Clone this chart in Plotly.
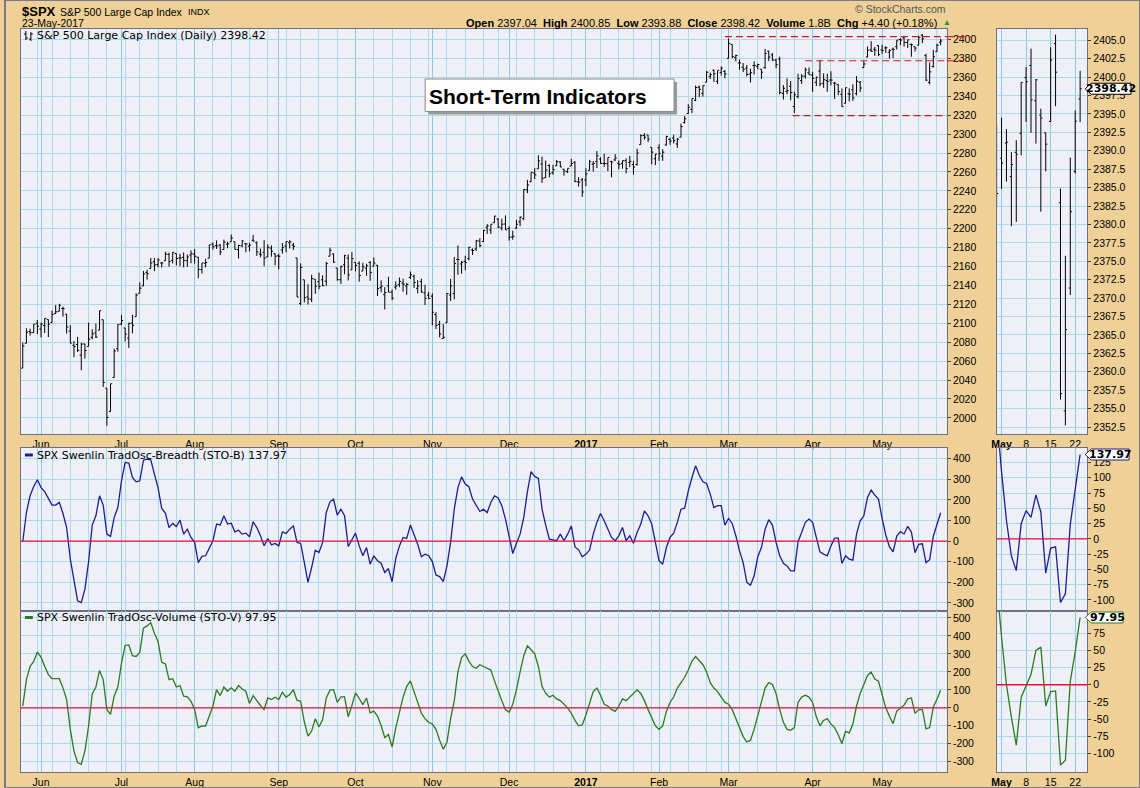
import numpy as np
import pandas as pd
import plotly.graph_objects as go

# ---------------- data ----------------
HOLIDAYS = ["2016-05-30", "2016-07-04", "2016-09-05", "2016-11-24", "2016-12-26",
            "2017-01-02", "2017-01-16", "2017-02-20", "2017-04-14"]

open_ = [
    2052.6, 2078.9, 2091.4, 2090.1, 2100.1,
    2093.9, 2097.7, 2104.1, 2100.8, 2110.2, 2112.7, 2115.7, 2109.6, 2091.8, 2076.7, 2077.6, 2066.4, 2078.2, 2075.6, 2085.2, 2089.8, 2092.8, 2103.8, 2031.5, 2006.7, 2042.7, 2073.2,
    2099.3, 2095.1, 2084.4, 2100.4, 2107.0, 2131.7, 2139.5, 2153.8, 2157.9, 2165.1, 2162.0, 2163.8, 2166.1, 2172.9, 2166.5, 2173.7, 2169.0, 2169.8, 2166.1, 2172.1,
    2173.1, 2169.9, 2156.8, 2163.5, 2168.8, 2183.8, 2182.2, 2182.8, 2178.0, 2183.7, 2186.1, 2186.2, 2177.8, 2181.9, 2184.2, 2181.6, 2187.8, 2185.1, 2173.3, 2175.1, 2170.2, 2179.5, 2173.6,
    2171.3, 2177.5, 2181.6, 2185.2, 2182.8, 2169.1, 2120.9, 2146.0, 2127.9, 2125.4, 2146.5, 2144.0, 2145.9, 2144.6, 2170.9, 2173.3, 2158.5, 2146.0, 2161.9, 2168.9, 2156.5,
    2164.3, 2163.4, 2155.2, 2158.2, 2164.2, 2160.4, 2161.4, 2137.7, 2130.3, 2139.7, 2133.0, 2138.3, 2140.8, 2142.5, 2139.4, 2148.5, 2149.7, 2137.0, 2144.1, 2132.2, 2129.8,
    2128.7, 2109.4, 2098.8, 2083.8, 2100.6, 2129.9, 2131.6, 2167.5, 2162.7, 2165.6, 2168.3, 2177.5, 2178.6, 2186.9, 2186.4, 2201.6, 2198.6, 2206.3, 2210.2, 2200.8, 2205.0,
    2200.2, 2191.1, 2200.6, 2207.3, 2210.7, 2241.1, 2249.7, 2258.8, 2263.3, 2268.4, 2253.8, 2266.8, 2259.2, 2266.5, 2270.5, 2262.9, 2260.3, 2266.2, 2270.2, 2249.5, 2251.6,
    2251.6, 2261.6, 2268.2, 2271.1, 2273.6, 2269.0, 2268.6, 2271.1, 2272.7, 2269.1, 2269.1, 2271.9, 2270.0, 2267.8, 2267.9, 2288.9, 2298.6, 2299.0, 2286.0, 2274.0,
    2285.6, 2276.7, 2288.5, 2294.3, 2295.9, 2289.6, 2296.7, 2312.3, 2321.7, 2326.1, 2335.6, 2349.6, 2343.0, 2354.9, 2361.1, 2367.5, 2355.7, 2365.2, 2366.1,
    2380.1, 2394.8, 2380.9, 2375.2, 2370.7, 2369.8, 2363.5, 2372.5, 2371.6, 2368.6, 2370.3, 2387.7, 2383.7, 2378.2, 2379.3, 2343.0, 2345.1, 2350.4, 2329.1, 2339.8, 2356.5, 2361.3, 2364.8,
    2362.3, 2354.8, 2366.6, 2353.8, 2356.6, 2357.2, 2353.9, 2352.2, 2342.0, 2332.6, 2342.5, 2346.8, 2342.7, 2354.7, 2370.3, 2381.5, 2389.0, 2389.7, 2393.7,
    2388.99, 2391.05, 2386.50, 2389.79, 2392.37, 2399.94, 2401.58, 2396.79, 2394.84, 2392.44, 2393.98, 2404.55, 2382.95, 2354.69, 2371.37, 2387.21, 2397.04,
]
high = [
    2079.7, 2094.7, 2094.3, 2099.1, 2103.5,
    2100.7, 2105.3, 2104.1, 2113.4, 2119.2, 2120.6, 2117.6, 2109.6, 2098.1, 2081.3, 2085.7, 2079.6, 2078.2, 2100.7, 2093.7, 2099.7, 2113.3, 2103.8, 2031.5, 2036.1, 2073.1, 2098.9,
    2108.7, 2095.1, 2100.7, 2109.1, 2131.7, 2143.2, 2155.4, 2156.5, 2169.1, 2169.0, 2169.0, 2164.6, 2175.6, 2174.6, 2175.1, 2173.7, 2173.5, 2175.0, 2172.9, 2177.1,
    2178.3, 2170.2, 2163.8, 2168.2, 2182.9, 2185.4, 2187.7, 2183.4, 2188.5, 2186.3, 2193.8, 2186.2, 2183.1, 2187.9, 2185.0, 2185.2, 2193.4, 2186.7, 2179.0, 2187.9, 2183.5, 2182.3, 2173.8,
    2173.6, 2184.9, 2186.6, 2187.9, 2184.9, 2169.1, 2163.3, 2146.0, 2141.3, 2151.3, 2146.5, 2153.6, 2150.8, 2165.1, 2180.0, 2173.8, 2158.5, 2161.1, 2172.4, 2172.7, 2175.3,
    2164.4, 2165.5, 2164.0, 2162.9, 2165.9, 2169.6, 2161.6, 2145.4, 2138.2, 2149.2, 2135.6, 2144.4, 2148.4, 2147.2, 2142.6, 2154.8, 2151.4, 2145.7, 2147.1, 2140.7, 2133.3,
    2131.5, 2111.8, 2102.6, 2099.1, 2132.0, 2146.9, 2170.1, 2182.3, 2165.9, 2171.4, 2180.8, 2179.2, 2188.1, 2189.9, 2198.7, 2204.8, 2204.7, 2213.4, 2211.1, 2210.5, 2214.1,
    2202.6, 2197.9, 2209.4, 2212.8, 2241.6, 2251.7, 2259.8, 2264.0, 2277.5, 2276.2, 2272.1, 2268.1, 2267.5, 2272.6, 2271.2, 2263.2, 2263.8, 2273.8, 2271.3, 2254.5, 2253.6,
    2263.9, 2272.8, 2271.5, 2282.1, 2275.5, 2279.3, 2275.3, 2271.8, 2278.7, 2272.1, 2272.0, 2274.3, 2277.0, 2271.8, 2284.6, 2299.6, 2301.0, 2299.0, 2286.0, 2279.1,
    2289.1, 2284.0, 2298.3, 2296.2, 2299.4, 2295.9, 2311.1, 2319.2, 2331.6, 2337.6, 2351.3, 2351.3, 2351.2, 2366.7, 2365.1, 2368.3, 2367.3, 2371.5, 2367.8,
    2401.0, 2394.8, 2383.9, 2378.8, 2375.1, 2373.1, 2369.1, 2376.9, 2374.4, 2368.6, 2390.0, 2388.1, 2385.7, 2379.6, 2381.9, 2351.8, 2358.9, 2356.2, 2344.9, 2363.8, 2363.4, 2370.4, 2370.4,
    2365.9, 2360.5, 2378.4, 2364.2, 2363.8, 2366.4, 2355.2, 2352.7, 2348.3, 2349.1, 2348.4, 2352.6, 2361.4, 2356.2, 2377.0, 2392.5, 2398.2, 2392.1, 2393.7,
    2394.49, 2392.93, 2389.82, 2391.43, 2399.29, 2401.36, 2403.87, 2399.74, 2395.72, 2392.44, 2404.05, 2405.77, 2384.87, 2375.74, 2389.06, 2395.46, 2400.85,
]
low = [
    2052.6, 2078.9, 2087.1, 2090.1, 2088.7,
    2085.1, 2089.8, 2085.4, 2100.8, 2110.2, 2112.7, 2107.0, 2089.1, 2079.0, 2064.1, 2069.7, 2050.4, 2062.8, 2075.6, 2083.0, 2084.4, 2092.8, 2032.6, 1991.7, 2006.7, 2042.7, 2070.0,
    2097.9, 2080.9, 2074.0, 2089.4, 2107.0, 2131.7, 2139.5, 2146.2, 2157.9, 2155.1, 2159.1, 2159.0, 2166.1, 2159.8, 2163.2, 2161.1, 2160.2, 2159.1, 2159.7, 2163.5,
    2163.0, 2147.6, 2152.5, 2159.1, 2168.8, 2177.9, 2178.6, 2172.0, 2178.0, 2179.4, 2186.1, 2178.1, 2168.5, 2180.5, 2175.1, 2176.0, 2186.8, 2171.3, 2169.7, 2160.4, 2170.2, 2170.4, 2161.4,
    2157.1, 2173.6, 2175.1, 2179.1, 2177.5, 2127.8, 2119.1, 2122.0, 2119.9, 2122.4, 2131.2, 2135.9, 2139.2, 2139.6, 2170.9, 2164.0, 2145.0, 2141.6, 2151.8, 2145.2, 2156.5,
    2154.8, 2144.0, 2155.2, 2150.3, 2144.9, 2160.4, 2128.8, 2132.8, 2114.7, 2133.0, 2124.4, 2135.5, 2138.2, 2133.4, 2130.1, 2146.9, 2137.4, 2131.6, 2132.5, 2119.4, 2125.5,
    2097.9, 2094.0, 2085.2, 2083.8, 2100.6, 2123.6, 2125.4, 2151.2, 2152.5, 2156.1, 2166.4, 2172.2, 2176.6, 2180.4, 2186.4, 2194.5, 2194.5, 2206.3, 2200.4, 2198.2, 2198.8,
    2187.4, 2188.4, 2200.0, 2202.5, 2208.9, 2237.6, 2249.2, 2252.4, 2263.3, 2248.4, 2253.8, 2254.2, 2257.0, 2266.2, 2265.2, 2256.1, 2258.8, 2266.2, 2249.1, 2244.6, 2233.6,
    2245.1, 2261.6, 2260.5, 2264.1, 2268.8, 2265.3, 2260.8, 2254.3, 2271.5, 2262.8, 2263.4, 2258.4, 2265.0, 2257.0, 2266.7, 2288.9, 2294.1, 2291.6, 2268.0, 2267.2,
    2271.7, 2271.7, 2287.9, 2288.7, 2290.2, 2285.4, 2296.6, 2311.1, 2321.4, 2322.2, 2334.8, 2338.9, 2339.6, 2354.9, 2358.3, 2355.1, 2352.9, 2361.9, 2359.0,
    2380.1, 2380.2, 2376.9, 2368.0, 2365.5, 2361.0, 2354.5, 2363.0, 2368.5, 2358.2, 2368.9, 2377.2, 2377.6, 2369.7, 2341.9, 2336.5, 2342.1, 2335.7, 2322.3, 2337.6, 2353.0, 2358.6, 2362.6,
    2344.7, 2350.7, 2350.5, 2348.9, 2344.7, 2351.5, 2337.3, 2341.2, 2328.9, 2332.5, 2334.5, 2335.1, 2340.9, 2344.5, 2370.3, 2381.2, 2386.8, 2382.7, 2382.4,
    2384.83, 2385.82, 2379.75, 2380.35, 2389.38, 2393.92, 2392.44, 2390.97, 2381.74, 2387.19, 2393.94, 2396.05, 2356.21, 2352.72, 2370.43, 2386.92, 2393.88,
]
close = [
    2076.06, 2090.54, 2090.10, 2099.06, 2096.95,
    2099.33, 2105.26, 2099.13, 2109.41, 2112.13, 2119.12, 2115.48, 2096.07, 2079.06, 2075.32, 2071.50, 2077.99, 2071.22, 2083.25, 2088.90, 2085.45, 2113.32, 2037.41, 2000.54, 2036.09, 2070.77, 2098.86,
    2102.95, 2088.55, 2099.73, 2097.90, 2129.90, 2137.16, 2152.14, 2152.43, 2163.75, 2161.74, 2166.89, 2163.78, 2173.02, 2165.17, 2175.03, 2168.48, 2169.18, 2166.58, 2170.06, 2173.60,
    2170.84, 2157.03, 2163.79, 2164.25, 2182.87, 2180.89, 2181.74, 2175.49, 2185.79, 2184.05, 2190.15, 2178.15, 2182.22, 2187.02, 2183.87, 2182.64, 2186.90, 2175.44, 2172.47, 2169.04, 2180.38, 2176.12, 2170.95,
    2170.86, 2179.98, 2186.48, 2186.16, 2181.30, 2127.81, 2159.04, 2127.02, 2125.77, 2147.26, 2139.16, 2139.12, 2139.76, 2163.12, 2177.18, 2164.69, 2146.10, 2159.93, 2171.37, 2151.13, 2168.27,
    2161.20, 2150.49, 2159.73, 2160.77, 2153.74, 2163.66, 2136.73, 2139.18, 2132.55, 2132.98, 2126.50, 2139.60, 2144.29, 2141.34, 2141.16, 2151.33, 2143.16, 2139.43, 2133.04, 2126.41, 2126.15,
    2111.72, 2097.94, 2088.66, 2085.18, 2131.52, 2139.56, 2163.26, 2167.48, 2164.45, 2164.20, 2180.39, 2176.94, 2187.12, 2181.90, 2198.18, 2202.94, 2204.72, 2213.35, 2201.72, 2204.66, 2198.81,
    2191.08, 2191.95, 2204.71, 2212.23, 2241.35, 2246.19, 2259.53, 2256.96, 2271.72, 2253.28, 2262.03, 2258.07, 2262.53, 2270.76, 2265.18, 2260.96, 2263.79, 2268.88, 2249.92, 2249.26, 2238.83,
    2257.83, 2270.75, 2269.00, 2276.98, 2268.90, 2268.90, 2275.32, 2270.44, 2274.64, 2267.89, 2271.89, 2263.69, 2271.31, 2265.20, 2280.07, 2298.37, 2296.68, 2294.69, 2280.90, 2278.87,
    2279.55, 2280.85, 2297.42, 2292.56, 2293.08, 2294.67, 2307.87, 2316.10, 2328.25, 2337.58, 2349.25, 2347.22, 2351.16, 2365.38, 2362.82, 2363.81, 2367.34, 2369.75, 2363.64,
    2395.96, 2381.92, 2383.12, 2375.31, 2368.39, 2362.98, 2364.87, 2372.60, 2373.47, 2365.45, 2385.26, 2381.38, 2378.25, 2373.47, 2344.02, 2348.45, 2345.96, 2343.98, 2341.59, 2358.57, 2361.13, 2368.06, 2362.72,
    2358.84, 2360.16, 2352.95, 2357.49, 2355.54, 2357.16, 2353.78, 2344.93, 2328.95, 2349.01, 2342.19, 2338.17, 2355.84, 2348.69, 2374.15, 2388.61, 2387.45, 2388.77, 2384.20,
    2388.33, 2391.17, 2388.13, 2389.52, 2399.29, 2399.38, 2396.92, 2399.63, 2394.44, 2390.90, 2402.32, 2400.67, 2357.03, 2365.72, 2381.73, 2394.02, 2398.42,
]
sto_b = [
    -3, 139, 220, 265, 298, 260, 240, 205, 175, 175,
    188, 134, 66, -87, -200, -290, -298, -233, -100, 78,
    123, 220, 175, 34, 23, 115, 163, 293, 382, 379,
    309, 288, 293, 393, 398, 395, 325, 260, 159, 136,
    66, 86, 71, 102, 34, 58, 18, -6, -104, -74,
    -71, -36, 2, 83, 78, 123, 83, 87, 45, 53,
    34, 39, 21, 94, 66, 26, -23, 13, -18, -11,
    -23, 45, 37, 58, 74, -6, -11, -104, -200, -128,
    -44, -55, -6, 139, 191, 204, 126, 155, 123, -26,
    10, 39, -23, -71, -31, -112, -71, -95, -107, -152,
    -133, -197, -84, -23, 18, 13, 78, 34, -15, -76,
    -63, -71, -99, -165, -172, -196, -120, -6, 155, 260,
    312, 277, 264, 204, 175, 144, 155, 139, 188, 220,
    209, 172, 107, 18, -60, -10, 34, 115, 240, 337,
    314, 304, 155, 78, 10, 6, 2, 34, 2, 34,
    74, -28, -42, -76, -63, -44, 34, 91, 134, 99,
    58, 18, 2, 26, 66, 2, 26, -10, 42, 83,
    147, 123, 83, -15, -95, -112, -31, 18, 39, 91,
    155, 160, 244, 309, 366, 320, 288, 280, 228, 163,
    172, 172, 78, 110, 86, 26, -47, -104, -200, -214,
    -168, -76, -31, 58, 104, 78, -6, -71, -108, -120,
    -144, -144, -3, 42, 91, 107, 91, 18, -52, -63,
    -71, -23, 15, 15, -108, -71, -87, -92, 34, 99,
    123, 212, 248, 223, 204, 110, 30, -28, -52, 25,
    46, 35, 72, 44, -56, -15, -13, -104, -90, 24,
    81, 137.97,
]
sto_v = [
    9, 157, 231, 258, 310, 282, 231, 185, 162, 162,
    162, 111, 46, -120, -240, -304, -314, -240, -101, 77,
    116, 208, 157, -9, -37, 65, 116, 249, 347, 350,
    290, 286, 308, 443, 456, 474, 415, 369, 253, 245,
    157, 162, 116, 124, 65, 61, 37, -9, -111, -101,
    -101, -46, 9, 101, 68, 116, 92, 111, 92, 124,
    105, 92, 24, 68, 37, 13, -9, 55, 46, 59,
    46, 87, 59, 74, 101, 41, 37, -79, -157, -129,
    -61, -107, -65, 55, 98, 101, 31, 61, 61, -50,
    13, 83, 52, 18, 55, -28, -18, -46, -98, -166,
    -148, -218, -111, -18, 59, 120, 150, 90, 30, -30,
    -60, -80, -90, -120, -180, -230, -190, -60, 40, 200,
    280, 300, 260, 230, 220, 240, 230, 220, 210, 150,
    90, 40, -10, -25, 20, 100, 200, 290, 345, 320,
    300, 230, 120, 80, 60, 70, 50, 40, 20, 0,
    -30, -70, -100, -95, -40, 30, 90, 110, 70, 20,
    10, -10, -20, 10, 50, 40, 60, 80, 100, 80,
    40, -10, -60, -100, -120, -100, -20, 30, 60, 110,
    140, 170, 210, 260, 285, 260, 240, 200, 140, 110,
    90, 60, 30, 20, -10, -60, -110, -160, -190, -180,
    -120, -40, 30, 110, 140, 130, 80, -10, -80, -120,
    -125, -110, 30, 60, 70, 60, 30, -50, -100, -70,
    -60, -90, -110, -150, -200, -130, -140, -90, 10, 80,
    130, 180, 199, 160, 148, 70, 0, -47, -88, -18,
    -2, 15, 50, 55, -31, -10, -9, -117, -110, 5,
    48, 97.95,
]
price_ticks = list(range(2000, 2401, 20))
zoom_price_ticks = [2352.5 + 2.5 * k for k in range(22)]
osc_b_ticks = [-300, -200, -100, 0, 100, 200, 300, 400]
osc_v_ticks = [-300, -200, -100, 0, 100, 200, 300, 400, 500]
zoom_b_ticks = [-100, -75, -50, -25, 0, 25, 50, 75, 100, 125]
zoom_v_ticks = [-100, -75, -50, -25, 0, 25, 50, 75]
resistance_hi = 2403.0      # upper dashed line
resistance_mid = 2377.5     # red dashed line
support_lo = 2319.5         # lower dashed line
header = dict(open="2397.04", high="2400.85", low="2393.88", close="2398.42",
              volume="1.8B", chg="+4.40 (+0.18%)")

# ---------------- derived positions ----------------
dates = pd.bdate_range("2016-05-24", "2017-05-23")
dates = dates[~dates.isin(pd.to_datetime(HOLIDAYS))]
N = len(dates)
assert all(len(a) == N for a in (open_, high, low, close, sto_b, sto_v))
idx = np.arange(N)
wk = dates.to_period("W")
week_starts = [i for i in range(1, N) if wk[i] != wk[i - 1]]
month_starts = [i for i in range(1, N) if dates[i].month != dates[i - 1].month]
month_text = ["<b>%d</b>" % dates[i].year if dates[i].month == 1 else dates[i].strftime("%b")
              for i in month_starts]
Z0 = month_starts[-1]           # first bar of the zoom window (May 1)
zoom_ticks = [i for i in week_starts if i >= Z0]
zoom_text = ["<b>%s</b>" % dates[i].strftime("%b") if i in month_starts else str(dates[i].day)
             for i in zoom_ticks]

W, H = 1140, 788
def fx(p): return p / W
def fy(p): return 1 - p / H

TAN = "#EFD096"
PLOTBG = "#EFEFF7"
GRID = "#ABDBEB"
GRID_M = "#8CC8E2"
FRAME = "#6E6E84"
NAVY = "#1E1E8E"
GREEN = "#2B7B22"
RED = "#E3123C"
DASHRED = "#D81818"
TICKFONT = dict(family="Liberation Sans, Arial, sans-serif", size=10.5, color="black")

fig = go.Figure()
fig.add_trace(go.Ohlc(x=idx, open=open_, high=high, low=low, close=close, xaxis="x", yaxis="y",
                      increasing=dict(line=dict(color="black", width=1)),
                      decreasing=dict(line=dict(color="black", width=1)),
                      tickwidth=0.45, hoverinfo="skip"))
s = Z0 - 2
fig.add_trace(go.Ohlc(x=idx[s:], open=open_[s:], high=high[s:], low=low[s:], close=close[s:],
                      xaxis="x2", yaxis="y2",
                      increasing=dict(line=dict(color="black", width=1)),
                      decreasing=dict(line=dict(color="black", width=1)),
                      tickwidth=0.33, hoverinfo="skip"))
fig.add_trace(go.Scatter(x=idx, y=sto_b, mode="lines", line=dict(color=NAVY, width=1.3),
                         xaxis="x3", yaxis="y3", hoverinfo="skip"))
fig.add_trace(go.Scatter(x=idx, y=sto_b, mode="lines", line=dict(color=NAVY, width=1.3),
                         xaxis="x4", yaxis="y4", hoverinfo="skip"))
fig.add_trace(go.Scatter(x=idx, y=sto_v, mode="lines", line=dict(color=GREEN, width=1.3),
                         xaxis="x5", yaxis="y5", hoverinfo="skip"))
fig.add_trace(go.Scatter(x=idx, y=sto_v, mode="lines", line=dict(color=GREEN, width=1.3),
                         xaxis="x6", yaxis="y6", hoverinfo="skip"))

MAIN_X = [fx(16), fx(946)]
ZOOM_X = [fx(996), fx(1087)]
PRICE_Y = [fy(434), fy(28.5)]
BRE_Y = [fy(611), fy(448)]
VOL_Y = [fy(772), fy(611)]
MAIN_RANGE = [-0.5, N + 0.7]
ZOOM_RANGE = [Z0 - 1.0, N + 0.45]


def xax(domain, anchor, rng, tv, tt, minor_vals, labels):
    return dict(domain=domain, anchor=anchor, range=rng, tickmode="array", tickvals=tv, ticktext=tt,
                showticklabels=labels, ticks="", showgrid=True, gridcolor=GRID_M, gridwidth=1,
                minor=dict(tickmode="array", tickvals=minor_vals, showgrid=True, gridcolor=GRID,
                           gridwidth=1, ticks=""),
                showline=True, mirror=True, linecolor=FRAME, linewidth=1, zeroline=False,
                tickfont=TICKFONT, rangeslider=dict(visible=False), fixedrange=True)


def yax(domain, anchor, rng, tv, fmt):
    return dict(domain=domain, anchor=anchor, range=rng, side="right", tickmode="array",
                tickvals=tv, ticktext=[fmt.format(v) for v in tv], ticks="outside", ticklen=3,
                tickcolor="#444", showgrid=True, gridcolor=GRID, gridwidth=1, zeroline=False,
                showline=True, mirror=True, linecolor=FRAME, linewidth=1, tickfont=TICKFONT,
                fixedrange=True)


layout = dict(
    width=W, height=H, margin=dict(l=0, r=0, t=0, b=0), paper_bgcolor=TAN, plot_bgcolor=PLOTBG,
    showlegend=False, hovermode=False,
    xaxis=xax(MAIN_X, "y", MAIN_RANGE, month_starts, month_text, week_starts, True),
    xaxis2=xax(ZOOM_X, "y2", ZOOM_RANGE, zoom_ticks, zoom_text, [], True),
    xaxis3=xax(MAIN_X, "y3", MAIN_RANGE, month_starts, month_text, week_starts, False),
    xaxis4=xax(ZOOM_X, "y4", ZOOM_RANGE, zoom_ticks, zoom_text, [], False),
    xaxis5=xax(MAIN_X, "y5", MAIN_RANGE, month_starts, month_text, week_starts, True),
    xaxis6=xax(ZOOM_X, "y6", ZOOM_RANGE, zoom_ticks, zoom_text, [], True),
    yaxis=yax(PRICE_Y, "x", [1983, 2411.6], price_ticks, "{:d}"),
    yaxis2=yax(PRICE_Y, "x2", [2351.55, 2406.6], zoom_price_ticks, "{:.1f}"),
    yaxis3=yax(BRE_Y, "x3", [-339, 452], osc_b_ticks, "{:d}"),
    yaxis4=yax(BRE_Y, "x4", [-118, 148.6], zoom_b_ticks, "{:d}"),
    yaxis5=yax(VOL_Y, "x5", [-357, 538.7], osc_v_ticks, "{:d}"),
    yaxis6=yax(VOL_Y, "x6", [-127, 107.4], zoom_v_ticks, "{:d}"),
)
fig.update_layout(**layout)

shapes = []
# zero lines
for xa, ya in (("x3", "y3"), ("x4", "y4"), ("x5", "y5"), ("x6", "y6")):
    shapes.append(dict(type="line", xref=xa + " domain", yref=ya, x0=0, x1=1, y0=0, y1=0,
                       line=dict(color=RED, width=1.3), layer="above"))
# support / resistance lines (the upper two run a little past the plot edge)
for x0, lvl, ext in ((192, resistance_hi, 970), (214, resistance_mid, 962), (210.5, support_lo, 0)):
    shapes.append(dict(type="line", xref="x", yref="y", x0=x0, x1=MAIN_RANGE[1], y0=lvl, y1=lvl,
                       line=dict(color=DASHRED, width=1.2, dash="7px,4px")))
    if ext:
        shapes.append(dict(type="line", xref="paper", yref="y", x0=fx(946), x1=fx(ext), y0=lvl,
                           y1=lvl, line=dict(color=DASHRED, width=1.2, dash="7px,4px")))
# title box
shapes.append(dict(type="rect", xref="paper", yref="paper", x0=fx(425), x1=fx(675), y0=fy(114.5),
                   y1=fy(82), fillcolor="#9A9A9A", line=dict(width=0)))
shapes.append(dict(type="rect", xref="paper", yref="paper", x0=fx(422), x1=fx(672), y0=fy(111.5),
                   y1=fy(79), fillcolor="white", line=dict(color="#8A8A8A", width=1)))
# legend dashes
shapes.append(dict(type="line", xref="paper", yref="paper", x0=fx(20), x1=fx(28), y0=fy(455),
                   y1=fy(455), line=dict(color=NAVY, width=3)))
shapes.append(dict(type="line", xref="paper", yref="paper", x0=fx(20), x1=fx(28), y0=fy(617.5),
                   y1=fy(617.5), line=dict(color=GREEN, width=3)))
# small ohlc icon
for (xc, yt, yb, yo, yc) in ((21, 31, 40, 34, 38), (26, 32, 41, 39, 34)):
    shapes.append(dict(type="line", xref="paper", yref="paper", x0=fx(xc), x1=fx(xc), y0=fy(yt),
                       y1=fy(yb), line=dict(color="black", width=1)))
    shapes.append(dict(type="line", xref="paper", yref="paper", x0=fx(xc - 2), x1=fx(xc), y0=fy(yo),
                       y1=fy(yo), line=dict(color="black", width=1)))
    shapes.append(dict(type="line", xref="paper", yref="paper", x0=fx(xc), x1=fx(xc + 2), y0=fy(yc),
                       y1=fy(yc), line=dict(color="black", width=1)))
# outer frame
shapes.append(dict(type="rect", xref="paper", yref="paper", x0=0, x1=1, y0=0, y1=1,
                   line=dict(color="#7A7A88", width=2)))


# value tags on the zoom panels
def tag(yref, val, rng, dom, color, txt, w):
    span = rng[1] - rng[0]
    px = (dom[1] - dom[0]) * H
    h = 5.5 * span / px
    xs = [fx(1085), fx(1091), fx(1091 + w), fx(1091 + w), fx(1091)]
    ys = [val, val + h, val + h, val - h, val - h]
    path = "M " + " L ".join("%f,%f" % (a, b) for a, b in zip(xs, ys)) + " Z"
    shapes.append(dict(type="path", xref="paper", yref=yref, path=path, fillcolor="white",
                       line=dict(color=color, width=1), layer="above"))
    return dict(x=fx(1091 + w / 2), y=val, xref="paper", yref=yref, text="<b>%s</b>" % txt,
                showarrow=False, xanchor="center", yanchor="middle",
                font=dict(family="DejaVu Sans, Verdana, sans-serif", size=11, color="black"))


ann = []
ann.append(tag("y2", close[-1], [2351.55, 2406.6], PRICE_Y, "black", "%.2f" % close[-1], 40))
ann.append(tag("y4", sto_b[-1], [-118, 148.6], BRE_Y, NAVY, "%.2f" % sto_b[-1], 38))
ann.append(tag("y6", sto_v[-1], [-127, 107.4], VOL_Y, GREEN, "%.2f" % sto_v[-1], 32))
fig.update_layout(shapes=shapes)

SANS = "Liberation Sans, Arial, sans-serif"
VERD = "DejaVu Sans, Verdana, sans-serif"


def txt(x, y, t, size, family=SANS, color="black", xanchor="left"):
    ann.append(dict(x=fx(x), y=fy(y), xref="paper", yref="paper", text=t, showarrow=False,
                    xanchor=xanchor, yanchor="middle", font=dict(family=family, size=size, color=color)))


txt(15, 11, "<b>$SPX</b>", 13)
txt(53, 11.5, "S&P 500 Large Cap Index", 10.5)
txt(182, 11.5, "INDX", 9)
txt(15, 23.5, "23-May-2017", 10.5)
txt(947, 9, "\u00a9 StockCharts.com", 10.5, color="#555555", xanchor="right")
hdr = ("<b>Open</b> %s  <b>High</b> %s  <b>Low</b> %s  <b>Close</b> %s  <b>Volume</b> %s  "
       "<b>Chg</b> %s" % (header["open"], header["high"], header["low"], header["close"],
                          header["volume"], header["chg"]))
txt(938, 22.5, hdr, 11, xanchor="right")
txt(940, 22, "\u25b2", 8, color="#2E8B2E")
txt(30, 35.5, "S&P 500 Large Cap Index (Daily) %.2f" % close[-1], 11, family=VERD)
txt(30, 455.5, "SPX Swenlin TradOsc-Breadth (STO-B) %.2f" % sto_b[-1], 11, family=VERD)
txt(30, 617.5, "SPX Swenlin TradOsc-Volume (STO-V) %.2f" % sto_v[-1], 11, family=VERD)
txt(424, 96, "<b>Short-Term Indicators</b>", 21)
fig.update_layout(annotations=ann)

fig.write_html("out.html", config=dict(displayModeBar=False),
               post_script="document.body.style.margin='0';document.body.style.overflow='hidden';")
